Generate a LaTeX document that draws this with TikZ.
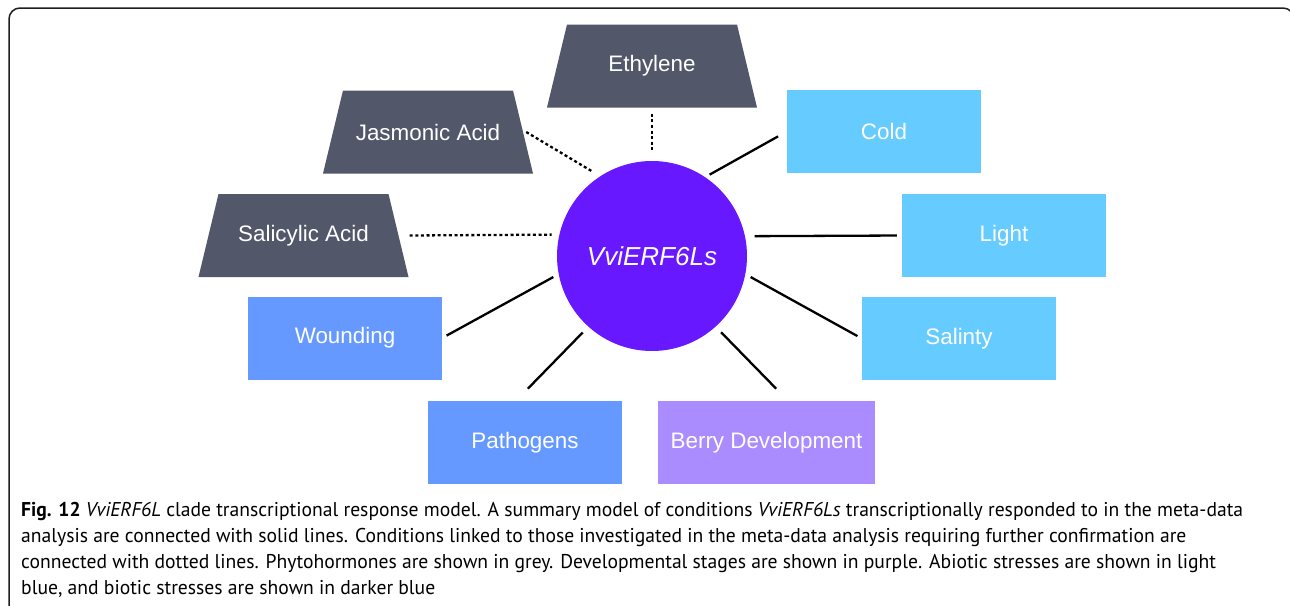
\documentclass[tikz,border=0pt]{standalone}
\usepackage{fontspec}
\setmainfont{Liberation Sans}
\newfontfamily\capfont{PT Sans}
\definecolor{hormonegrey}{RGB}{82,87,105}
\definecolor{abiotic}{RGB}{102,204,255}
\definecolor{biotic}{RGB}{102,153,255}
\definecolor{devel}{RGB}{170,140,255}
\definecolor{genecol}{RGB}{104,24,255}
\definecolor{framecol}{RGB}{30,30,30}
\newlength\capw
\newcommand\capsetfont{\capfont\fontsize{19}{23}\selectfont}
\newcommand\firstcapline{\textbf{Fig. 12} \textit{VviERF6L} clade transcriptional response model. A summary model of conditions \textit{VviERF6Ls} transcriptionally responded to in the meta-data}
\tikzset{
  hormone/.style={rectangle, minimum width=210pt, minimum height=83pt, inner sep=0pt, text=white,
    font=\fontsize{22.4}{26}\selectfont,
    path picture={\fill[hormonegrey] (path picture bounding box.south west) -- (path picture bounding box.south east)
      -- ([xshift=-20pt]path picture bounding box.north east) -- ([xshift=20pt]path picture bounding box.north west) -- cycle;}},
  condbox/.style={rectangle, minimum width=194pt, minimum height=83pt, inner sep=0pt, text=white,
    font=\fontsize{22.4}{26}\selectfont},
  solidlink/.style={line width=2.3pt, black},
  dotlink/.style={line width=2.3pt, black, dash pattern=on 3pt off 2.6pt},
  capline/.style={anchor=base west, inner sep=0pt, text=black}
}
\begin{document}
\settowidth{\capw}{\capsetfont\firstcapline}%
\pgfmathsetmacro\capsx{1222/\capw}%
\begin{tikzpicture}[x=1pt,y=-1pt]
\useasboundingbox (0,0) rectangle (1290,605);
\fill[white] (0,0) rectangle (1290,605);
\draw[framecol, line width=1.5pt, rounded corners=11pt] (9,8) rectangle (1294,640);

% centre
\node[circle, fill=genecol, minimum size=190pt, inner sep=0pt, text=white,
      font=\fontsize{26}{30}\selectfont\itshape] (c) at (652,256) {VviERF6Ls};

% phytohormones
\node[hormone] (eth) at (652,66) {Ethylene};
\node[hormone] (jas) at (428,132) {Jasmonic Acid};
\node[hormone] (sa) at (303.5,235.5) {Salicylic Acid};

% abiotic
\node[condbox, fill=abiotic] (cold) at (884,131.5) {Cold};
\node[condbox, fill=abiotic, minimum width=204pt] (light) at (1004,235.5) {Light};
\node[condbox, fill=abiotic] (sn) at (959,338.5) {Salinty};

% biotic
\node[condbox, fill=biotic] (wound) at (345,338) {Wounding};
\node[condbox, fill=biotic] (path) at (525,442.5) {Pathogens};

% developmental
\node[condbox, fill=devel, minimum width=217pt] (berry) at (766.5,442.5) {Berry Development};

% dotted links
\draw[dotlink, shorten <=6pt, shorten >=11pt] (eth.south) -- (c.north);
\draw[dotlink, shorten >=8.5pt] ([xshift=-7pt]jas.east) -- (c.123);
\draw[dotlink, shorten <=1pt, shorten >=7.6pt] (sa.east) -- (c.167.5);

% solid links
\draw[solidlink, shorten <=5pt, shorten >=10pt] (c.56) -- (cold.west);
\draw[solidlink, shorten <=9.5pt, shorten >=5pt] (c.12.5) -- (light.west);
\draw[solidlink, shorten <=6pt, shorten >=5pt] (c.-11.4) -- (sn.west);
\draw[solidlink, shorten <=7.7pt, shorten >=17pt] (c.-48.6) -- ([xshift=21.5pt]berry.north);
\draw[solidlink, shorten <=8pt, shorten >=17pt] (c.228.1) -- ([xshift=-9pt]path.north);
\draw[solidlink, shorten <=5pt, shorten >=6pt] (wound.east) -- (c.191.4);

% caption
\node[capline] (cap1) at (21,516) {\scalebox{\capsx}[1.05]{\capsetfont\firstcapline}};
\node[capline] (cap2) at (21,542) {\scalebox{\capsx}[1.05]{\capsetfont analysis are connected with solid lines. Conditions linked to those investigated in the meta-data analysis requiring further confirmation are}};
\node[capline] (cap3) at (21,568) {\scalebox{\capsx}[1.05]{\capsetfont connected with dotted lines. Phytohormones are shown in grey. Developmental stages are shown in purple. Abiotic stresses are shown in light}};
\node[capline] (cap4) at (21,594) {\scalebox{\capsx}[1.05]{\capsetfont blue, and biotic stresses are shown in darker blue}};
\end{tikzpicture}
\end{document}
